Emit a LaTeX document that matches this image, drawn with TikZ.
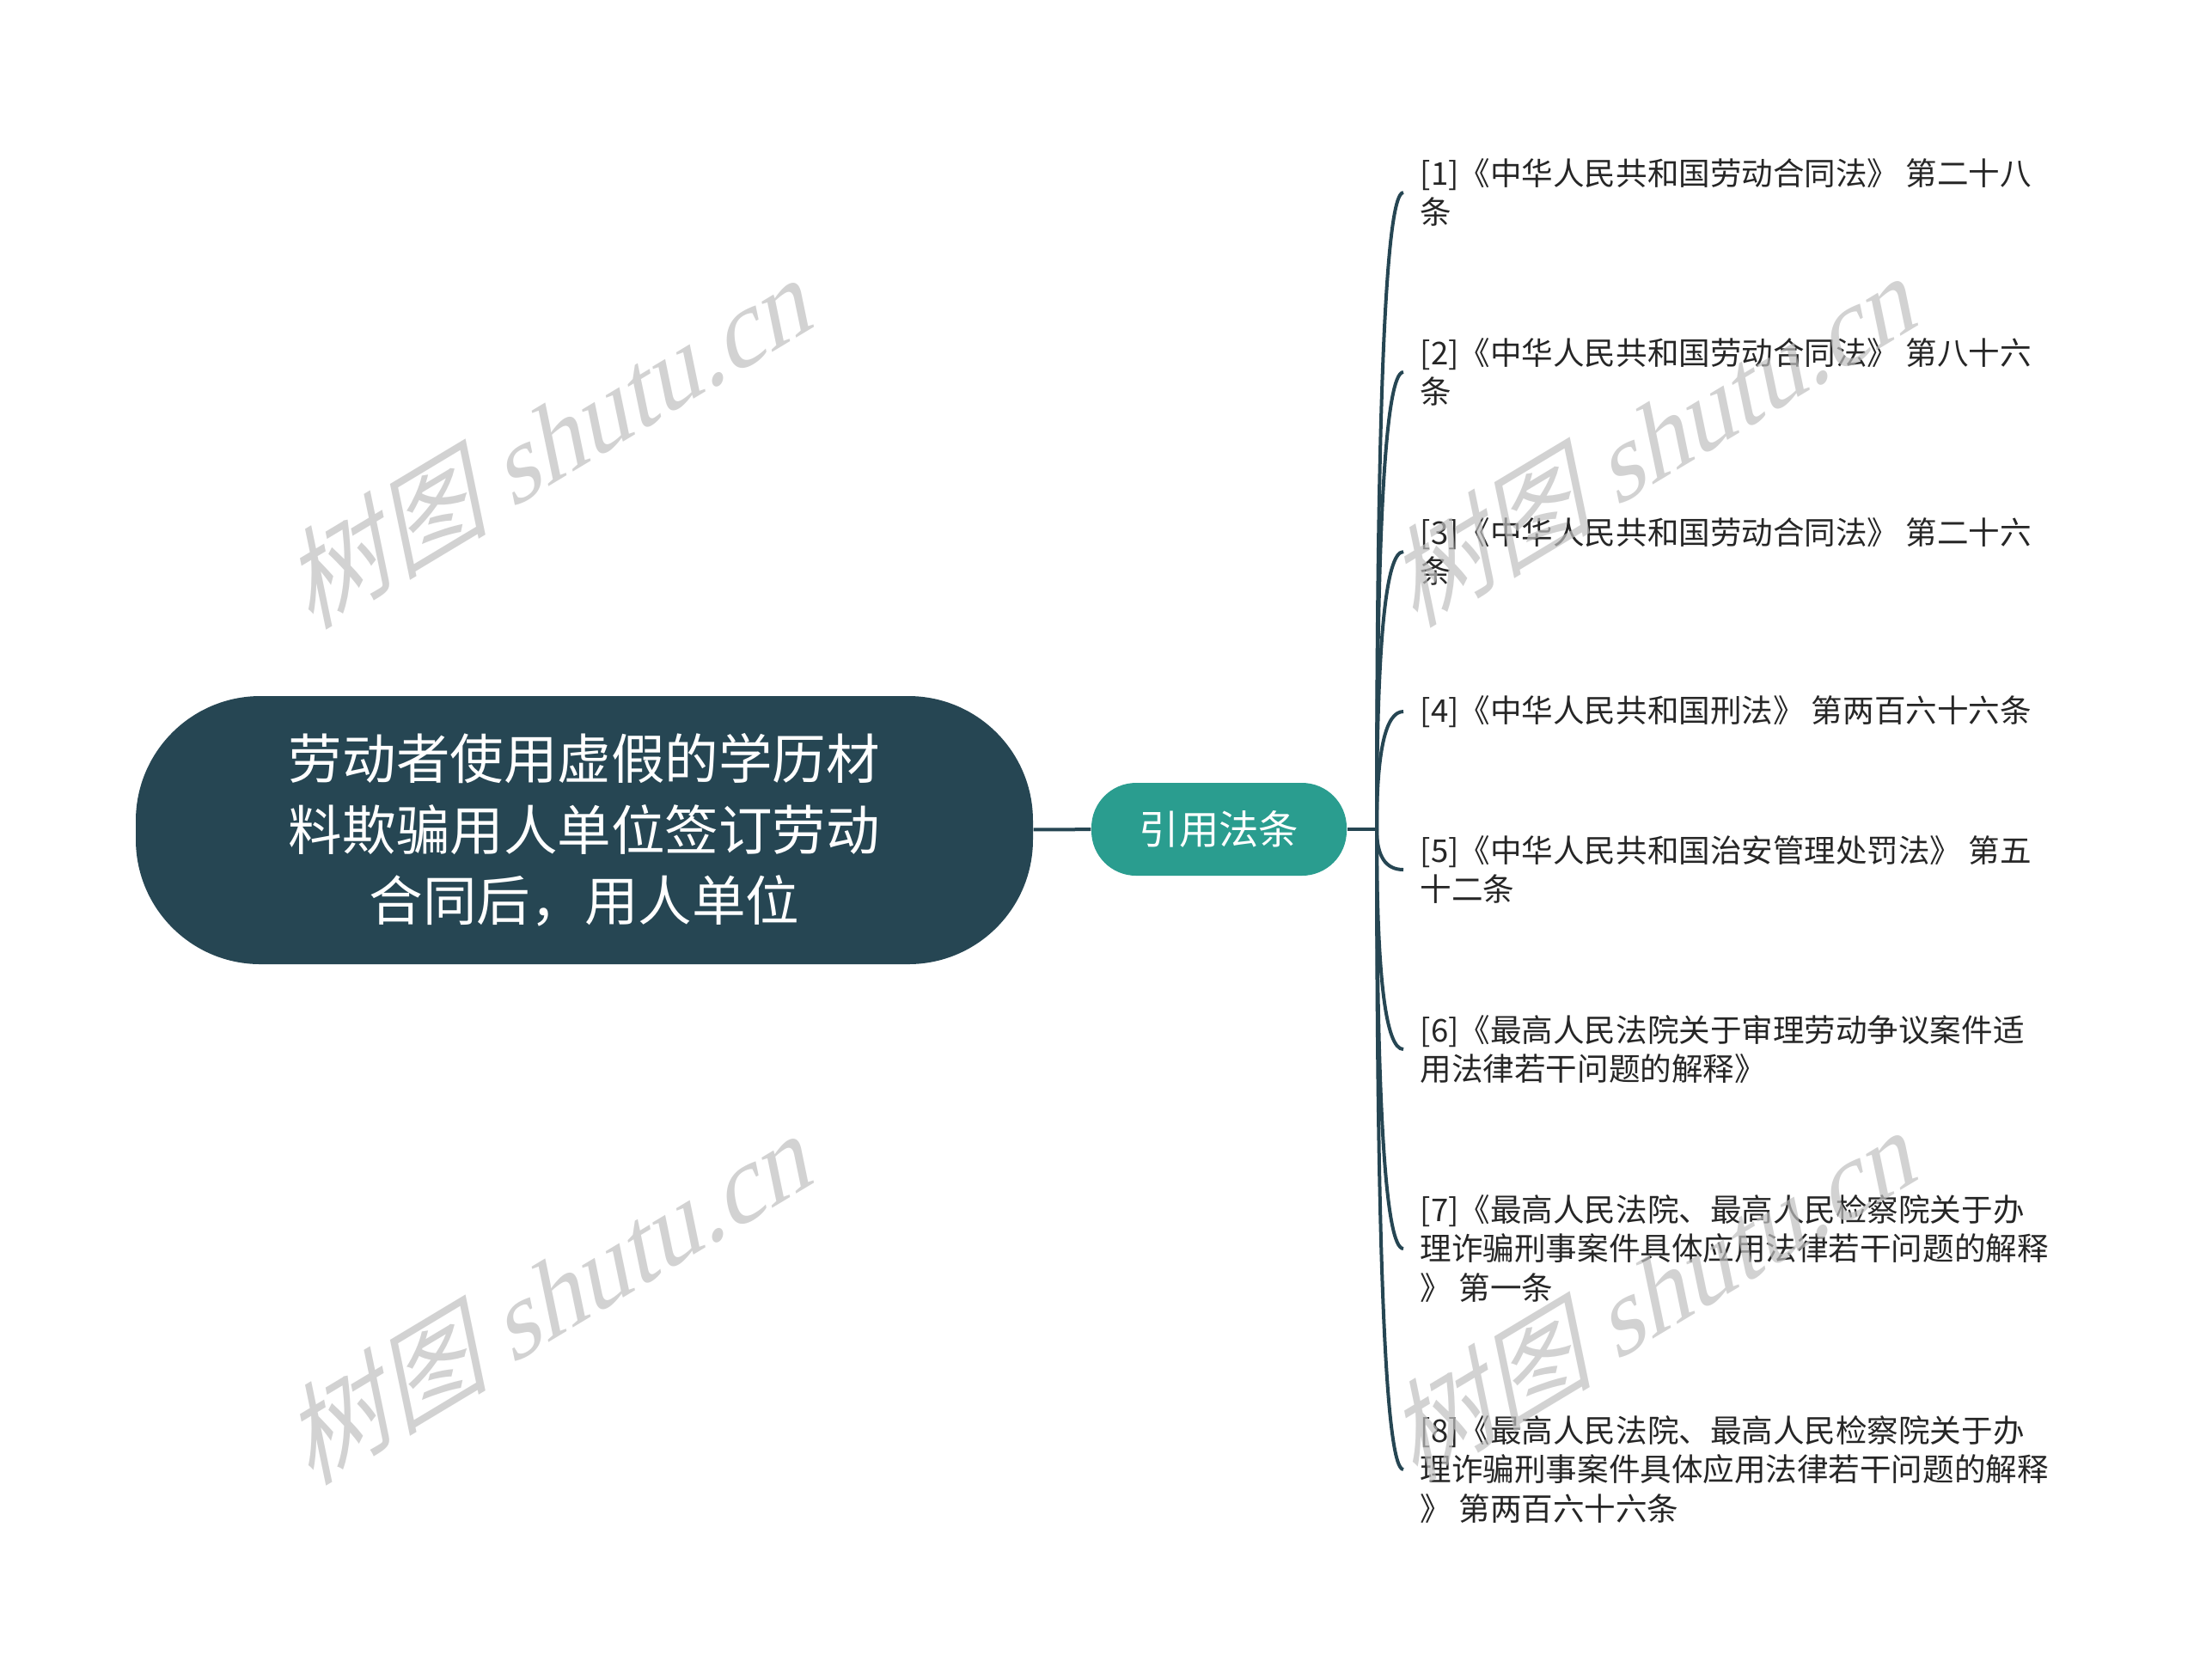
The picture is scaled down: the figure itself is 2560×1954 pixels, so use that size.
\documentclass[tikz,border=0pt]{standalone}
\usepackage{fontspec}
\setmainfont{Noto Sans CJK SC}
\newfontfamily\markfont{Liberation Serif}
\usepackage{tikz}
\usetikzlibrary{calc}

\definecolor{rootColor}{HTML}{264653}
\definecolor{citeColor}{HTML}{2A9D8F}
\definecolor{leafText}{HTML}{262626}

\begin{document}
\begin{tikzpicture}[x=0.1mm, y=-0.1mm,
		branch/.style={draw=rootColor, line width=0.4mm},
		leaf/.style={anchor=west, align=left, inner xsep=1.9mm, inner ysep=0pt, text=leafText, font=\fontsize{10.4pt}{13pt}\selectfont},
		watermark/.style={text=black!25, opacity=0.7, inner sep=0pt, font=\fontsize{35pt}{35pt}\selectfont}]
			\def\xTrunk{1602};
			\def\xLeaf{1633};
			\def\yMid{965};

			\newcommand{\drawLeaf}[3]
			{
				\node [leaf] (#1) at (\xLeaf,#2) {#3};
				\draw [branch] (trunk) .. controls ($(trunk)!2/3!(trunk |- #1.west)$) and ($(#1.west)!2/3!(trunk |- #1.west)$) .. (#1.west);
			}

			\newcommand{\drawMark}[3]
			{
				\begin{scope}[shift={(#2,#3)}, rotate=31, xslant=0.35]
					\node [watermark, transform shape] (#1) at (0,0) {树图 {\markfont shutu.cn}};
				\end{scope}
			}

			\useasboundingbox (0,0) rectangle (2560,1954);

			\begin{scope}
				\node [fill=rootColor, rounded corners=14.5mm, minimum width=104.4mm, minimum height=31.2mm, text=white, align=center, font=\fontsize{17.8pt}{23.5pt}\selectfont] (root) at (680,966) {劳动者使用虚假的学历材\\料欺骗用人单位签订劳动\\合同后，用人单位};
				\node [fill=citeColor, rounded corners=5.2mm, minimum width=29.7mm, minimum height=10.8mm, text=white, font=\fontsize{13.2pt}{13.2pt}\selectfont] (cite) at (1418.5,965) {引用法条};
				\coordinate (trunk) at (\xTrunk,\yMid);
			\end{scope}

			\begin{scope}
				\draw [branch] (root) -- (cite);
				\draw [branch] (cite) -- (trunk);
			\end{scope}

			\drawLeaf{leaf1}{224}{[1]《中华人民共和国劳动合同法》 第二十八\\条}
			\drawLeaf{leaf2}{433}{[2]《中华人民共和国劳动合同法》 第八十六\\条}
			\drawLeaf{leaf3}{642}{[3]《中华人民共和国劳动合同法》 第二十六\\条}
			\drawLeaf{leaf4}{828}{[4]《中华人民共和国刑法》 第两百六十六条}
			\drawLeaf{leaf5}{1012}{[5]《中华人民共和国治安管理处罚法》 第五\\十二条}
			\drawLeaf{leaf6}{1221}{[6]《最高人民法院关于审理劳动争议案件适\\用法律若干问题的解释》}
			\drawLeaf{leaf7}{1453}{[7]《最高人民法院、最高人民检察院关于办\\理诈骗刑事案件具体应用法律若干问题的解释\\》 第一条}
			\drawLeaf{leaf8}{1710}{[8]《最高人民法院、最高人民检察院关于办\\理诈骗刑事案件具体应用法律若干问题的解释\\》 第两百六十六条}

			\drawMark{markA}{645}{508}
			\drawMark{markB}{645}{1504}
			\drawMark{markC}{1930}{506}
			\drawMark{markD}{1930}{1500}
		\end{tikzpicture}
\end{document}
